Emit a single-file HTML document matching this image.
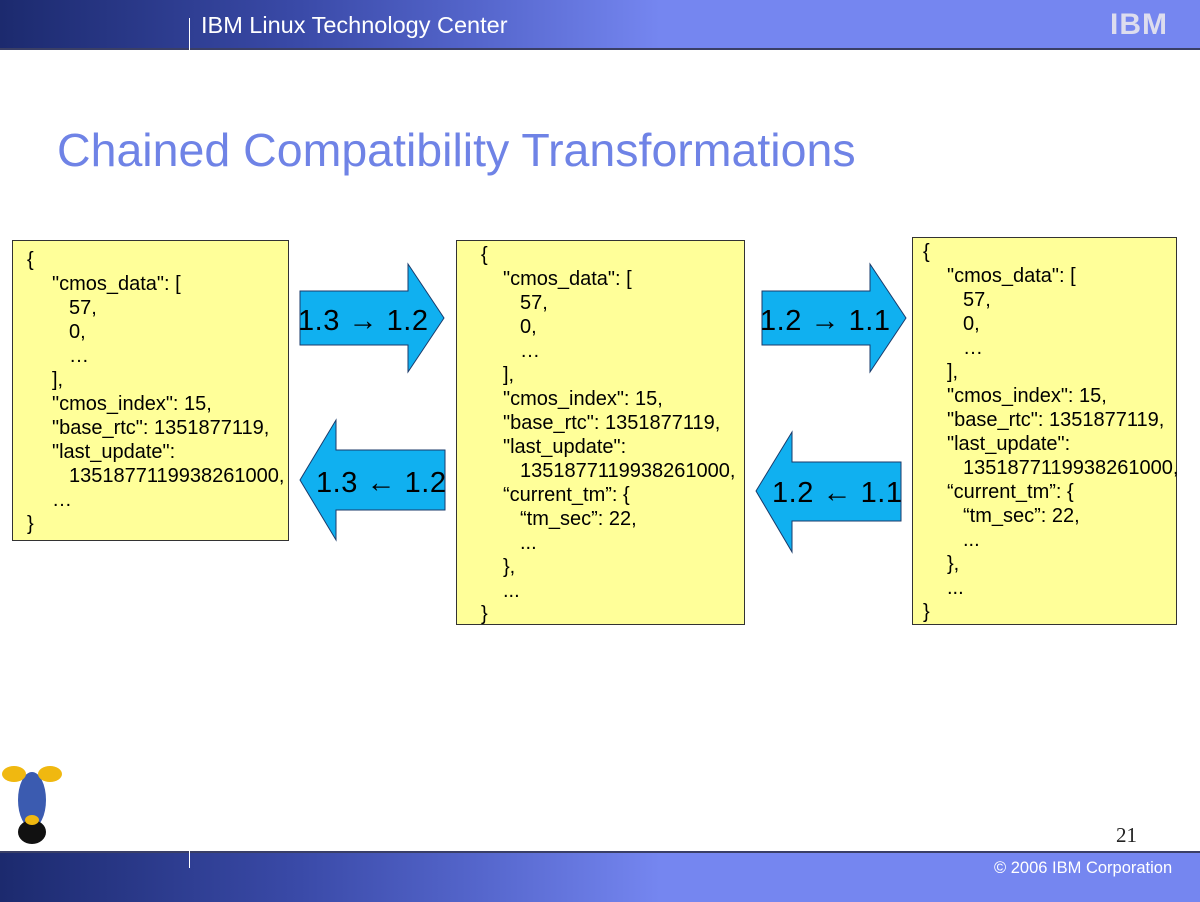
<!DOCTYPE html>
<html><head><meta charset="utf-8"><style>
html,body{margin:0;padding:0;background:#fff;}
body{width:1200px;height:900px;position:relative;overflow:hidden;font-family:"Liberation Sans",sans-serif;}
.hdr{position:absolute;left:0;top:0;width:1200px;height:48px;background:linear-gradient(90deg,#1c2a6e 0%,#3a4aa8 25%,#5566cc 40%,#7586f0 55%,#7586f0 100%);border-bottom:2px solid #3a3f66;}
.ftr{position:absolute;left:0;top:851px;width:1200px;height:49px;background:linear-gradient(90deg,#1c2a6e 0%,#3a4aa8 25%,#5566cc 40%,#7586f0 55%,#7586f0 100%);border-top:2px solid #3a3f66;}
.box{position:absolute;background:#ffff99;border:1px solid #333;font-size:20px;color:#000;}
.box div{position:absolute;white-space:nowrap;line-height:24px;}
</style></head><body>
<div class="hdr"></div>
<div style="position:absolute;left:189px;top:18px;width:1px;height:32px;background:#fff"></div>
<div style="position:absolute;left:201px;top:12px;color:#fff;font-size:23.5px;">IBM Linux Technology Center</div>
<div style="position:absolute;left:1110px;top:8px;color:#dde;font-size:30px;font-weight:bold;letter-spacing:1px;">IBM</div>
<div style="position:absolute;left:57px;top:123px;color:#6f83e6;font-size:46.5px;">Chained Compatibility Transformations</div>

<div class="box" style="left:12px;top:240px;width:275px;height:299px;">
<div style="left:14px;top:7px">{</div>
<div style="left:39px;top:31px">"cmos_data": [</div>
<div style="left:56px;top:55px">57,</div>
<div style="left:56px;top:79px">0,</div>
<div style="left:56px;top:103px">…</div>
<div style="left:39px;top:127px">],</div>
<div style="left:39px;top:151px">"cmos_index": 15,</div>
<div style="left:39px;top:175px">"base_rtc": 1351877119,</div>
<div style="left:39px;top:199px">"last_update":</div>
<div style="left:56px;top:223px">1351877119938261000,</div>
<div style="left:39px;top:247px">…</div>
<div style="left:14px;top:271px">}</div>
</div>

<div class="box" style="left:456px;top:240px;width:287px;height:383px;">
<div style="left:24px;top:2px">{</div>
<div style="left:46px;top:26px">"cmos_data": [</div>
<div style="left:63px;top:50px">57,</div>
<div style="left:63px;top:74px">0,</div>
<div style="left:63px;top:98px">…</div>
<div style="left:46px;top:122px">],</div>
<div style="left:46px;top:146px">"cmos_index": 15,</div>
<div style="left:46px;top:170px">"base_rtc": 1351877119,</div>
<div style="left:46px;top:194px">"last_update":</div>
<div style="left:63px;top:218px">1351877119938261000,</div>
<div style="left:46px;top:242px">“current_tm”: {</div>
<div style="left:63px;top:266px">“tm_sec”: 22,</div>
<div style="left:63px;top:290px">...</div>
<div style="left:46px;top:314px">},</div>
<div style="left:46px;top:338px">...</div>
<div style="left:24px;top:361px">}</div>
</div>

<div class="box" style="left:912px;top:237px;width:263px;height:386px;">
<div style="left:10px;top:2px">{</div>
<div style="left:34px;top:26px">"cmos_data": [</div>
<div style="left:50px;top:50px">57,</div>
<div style="left:50px;top:74px">0,</div>
<div style="left:50px;top:98px">…</div>
<div style="left:34px;top:122px">],</div>
<div style="left:34px;top:146px">"cmos_index": 15,</div>
<div style="left:34px;top:170px">"base_rtc": 1351877119,</div>
<div style="left:34px;top:194px">"last_update":</div>
<div style="left:50px;top:218px">1351877119938261000,</div>
<div style="left:34px;top:242px">“current_tm”: {</div>
<div style="left:50px;top:266px">“tm_sec”: 22,</div>
<div style="left:50px;top:290px">...</div>
<div style="left:34px;top:314px">},</div>
<div style="left:34px;top:338px">...</div>
<div style="left:10px;top:362px">}</div>
</div>

<svg style="position:absolute;left:0;top:0" width="1200" height="900">
<g fill="#10b0f0" stroke="#1a3a6a" stroke-width="1">
<polygon points="300,291 408,291 408,264 444,318 408,372 408,345 300,345"/>
<polygon points="445,450 336,450 336,420 300,480 336,540 336,510 445,510"/>
<polygon points="762,291 870,291 870,264 906,318 870,372 870,345 762,345"/>
<polygon points="901,462 792,462 792,432 756,491 792,552 792,521 901,521"/>
</g>
<g font-family="Liberation Sans,sans-serif" font-size="29" fill="#000">
<text x="298" y="330" textLength="130">1.3 → 1.2</text>
<text x="316" y="492" textLength="130">1.3 ← 1.2</text>
<text x="760" y="330" textLength="130">1.2 → 1.1</text>
<text x="772" y="502" textLength="130">1.2 ← 1.1</text>
</g>
<g>
<ellipse cx="32" cy="800" rx="14" ry="28" fill="#3b5bb0"/>
<ellipse cx="32" cy="832" rx="14" ry="12" fill="#111"/>
<ellipse cx="14" cy="774" rx="12" ry="8" fill="#f0b810"/>
<ellipse cx="50" cy="774" rx="12" ry="8" fill="#f0b810"/>
<ellipse cx="32" cy="820" rx="7" ry="5" fill="#f0b810"/>
</g>
<text x="1116" y="842" font-family="Liberation Serif,serif" font-size="21" fill="#222">21</text>
</svg>

<div class="ftr"></div>
<div style="position:absolute;left:189px;top:850px;width:1px;height:18px;background:#fff"></div>
<div style="position:absolute;left:994px;top:859px;color:#fff;font-size:16.5px;">© 2006 IBM Corporation</div>
</body></html>
